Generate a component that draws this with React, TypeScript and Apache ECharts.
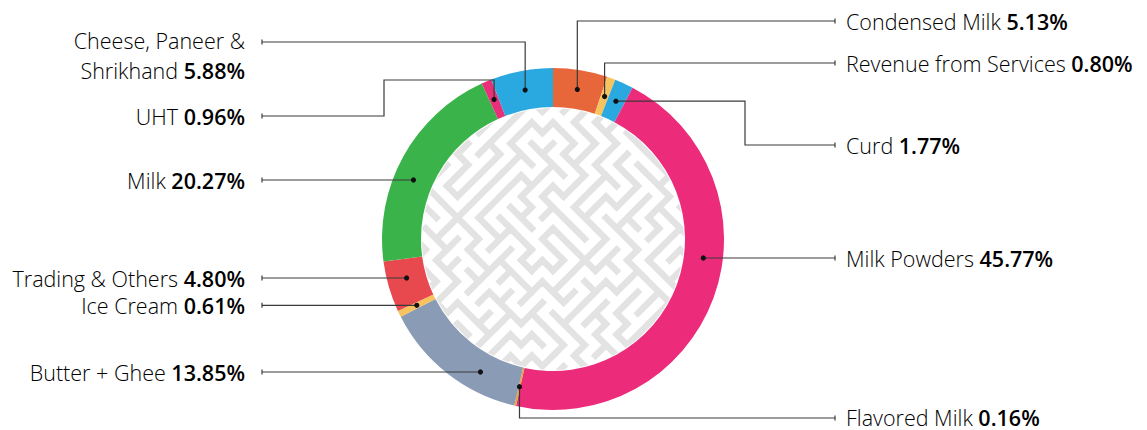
import React, { useEffect, useRef } from "react";
import * as echarts from "echarts";

// ---------- data ----------
const categories = [
  "Condensed Milk",
  "Revenue from Services",
  "Curd",
  "Milk Powders",
  "Flavored Milk",
  "Butter + Ghee",
  "Ice Cream",
  "Trading & Others",
  "Milk",
  "UHT",
  "Cheese, Paneer & Shrikhand",
];
const shares = [5.13, 0.8, 1.77, 45.77, 0.16, 13.85, 0.61, 4.8, 20.27, 0.96, 5.88];

// ---------- styles / layout ----------
const colors = [
  "#E8673A",
  "#F6C35F",
  "#2AA9E1",
  "#EC2B7B",
  "#F3A02F",
  "#8A9BB5",
  "#F6C35F",
  "#E8494E",
  "#3AB44A",
  "#E8307A",
  "#2AA9E1",
];

const CX = 553;
const CY = 239;
const R_OUT = 171;
const R_IN = 132;
const LEFT_END = 262;
const RIGHT_END = 835;
const LEFT_TEXT = 245;
const RIGHT_TEXT = 846;
const FONT = "'Open Sans', Lato, sans-serif";
const FONT_SIZE = 21.5;
const LINE_H = 22;
const WRAP_UP = -1.5;
const WRAP_DOWN = 28;
const LINE_COLOR = "#3a3a3a";

type Step = ["x" | "y", number];
interface Callout {
  side: "left" | "right";
  rowY?: number;
  route?: Step[];
  wrap?: boolean;
  textDy?: number;
}
const callouts: Callout[] = [
  { side: "right", route: [["y", 21]] },
  { side: "right", route: [["y", 63]] },
  { side: "right", route: [["x", 745], ["y", 145]] },
  { side: "right", rowY: 258 },
  { side: "right", route: [["y", 418]], textDy: -1 },
  { side: "left", rowY: 372 },
  { side: "left" },
  { side: "left", rowY: 278 },
  { side: "left", rowY: 180 },
  { side: "left", route: [["y", 80], ["x", 384], ["y", 116]] },
  { side: "left", route: [["y", 42]], wrap: true },
];

function makeMaze(size: number): string {
  const cvs = document.createElement("canvas");
  cvs.width = size;
  cvs.height = size;
  const ctx = cvs.getContext("2d")!;
  ctx.save();
  ctx.beginPath();
  ctx.arc(size / 2, size / 2, size / 2 - 1, 0, Math.PI * 2);
  ctx.clip();
  ctx.fillStyle = "#ffffff";
  ctx.fillRect(0, 0, size, size);
  ctx.translate(size / 2, size / 2);
  ctx.rotate(Math.PI / 4);
  const cell = 15;
  const n = Math.ceil((size * 1.5) / cell);
  let seed = 918273645;
  const rnd = () => {
    seed = (Math.imul(seed, 1664525) + 1013904223) >>> 0;
    return seed / 4294967296;
  };
  const visited = new Uint8Array(n * n);
  const right = new Uint8Array(n * n).fill(1);
  const down = new Uint8Array(n * n).fill(1);
  const start = Math.floor(n / 2) * n + Math.floor(n / 2);
  const stack = [start];
  visited[start] = 1;
  while (stack.length) {
    const c = stack[stack.length - 1];
    const x = c % n;
    const y = (c / n) | 0;
    const nb: number[] = [];
    if (x > 0 && !visited[c - 1]) nb.push(c - 1);
    if (x < n - 1 && !visited[c + 1]) nb.push(c + 1);
    if (y > 0 && !visited[c - n]) nb.push(c - n);
    if (y < n - 1 && !visited[c + n]) nb.push(c + n);
    if (!nb.length) {
      stack.pop();
      continue;
    }
    const nx = nb[Math.floor(rnd() * nb.length)];
    if (nx === c + 1) right[c] = 0;
    else if (nx === c - 1) right[c - 1] = 0;
    else if (nx === c + n) down[c] = 0;
    else down[nx] = 0;
    visited[nx] = 1;
    stack.push(nx);
  }
  ctx.strokeStyle = "#e3e3e3";
  ctx.lineWidth = 6.5;
  ctx.lineCap = "square";
  const off = (-n * cell) / 2;
  ctx.beginPath();
  for (let y = 0; y < n; y++) {
    for (let x = 0; x < n; x++) {
      const c = y * n + x;
      const x0 = off + x * cell;
      const y0 = off + y * cell;
      if (right[c] && x < n - 1) {
        ctx.moveTo(x0 + cell, y0);
        ctx.lineTo(x0 + cell, y0 + cell);
      }
      if (down[c] && y < n - 1) {
        ctx.moveTo(x0, y0 + cell);
        ctx.lineTo(x0 + cell, y0 + cell);
      }
    }
  }
  ctx.stroke();
  ctx.restore();
  return cvs.toDataURL();
}

export default function App() {
  const ref = useRef<HTMLDivElement>(null);

  useEffect(() => {
    if (!ref.current) return;
    const chart = echarts.init(ref.current, undefined, { renderer: "svg" });

    const total = shares.reduce((a, b) => a + b, 0);
    const mids: number[] = [];
    let acc = 0;
    shares.forEach((s) => {
      mids.push(acc + s / 2);
      acc += s;
    });
    const midFrac = (R_IN + R_OUT) / 2 / R_OUT;
    const mazeUrl = makeMaze(R_IN * 2);

    const rich = {
      n: { fontFamily: FONT, fontSize: FONT_SIZE, fontWeight: 300, color: "#4a4a4a", lineHeight: LINE_H },
      v: { fontFamily: FONT, fontSize: FONT_SIZE, fontWeight: 600, color: "#1c1c1c", lineHeight: LINE_H },
    };

    const textEl = (text: string, x: number, y: number, align: string) => ({
      type: "text",
      style: {
        text,
        rich,
        x,
        y,
        align,
        verticalAlign: "middle",
        fontFamily: FONT,
        fontSize: FONT_SIZE,
        lineHeight: LINE_H,
      },
    });

    chart.setOption({
      animation: false,
      backgroundColor: "#ffffff",
      graphic: [
        {
          type: "image",
          z: 0,
          silent: true,
          style: {
            image: mazeUrl,
            x: CX - R_IN,
            y: CY - R_IN,
            width: R_IN * 2,
            height: R_IN * 2,
          },
        },
      ],
      polar: { center: [CX, CY], radius: R_OUT },
      angleAxis: {
        type: "value",
        min: 0,
        max: total,
        startAngle: 90,
        clockwise: true,
        show: false,
      },
      radiusAxis: { type: "value", min: 0, max: 1, show: false },
      series: [
        {
          type: "pie",
          center: [CX, CY],
          radius: [R_IN, R_OUT],
          startAngle: 90,
          clockwise: true,
          silent: true,
          avoidLabelOverlap: false,
          label: { show: false },
          labelLine: { show: false },
          emphasis: { disabled: true },
          itemStyle: { borderWidth: 0 },
          data: categories.map((name, i) => ({
            name,
            value: shares[i],
            itemStyle: { color: colors[i] },
          })),
          z: 2,
        },
        {
          type: "custom",
          coordinateSystem: "polar",
          clip: false,
          silent: true,
          z: 5,
          data: mids.map((m) => [midFrac, m]),
          renderItem: (params: any, api: any) => {
            const i = params.dataIndex;
            const c = callouts[i];
            const center = api.coord([0, 0]);
            let p: number[];
            if (c.rowY != null) {
              const top = api.coord([api.value(0), 0]);
              const rpx = Math.hypot(top[0] - center[0], top[1] - center[1]);
              const dy = c.rowY - center[1];
              const dx = Math.sqrt(Math.max(rpx * rpx - dy * dy, 0)) * (c.side === "right" ? 1 : -1);
              p = [center[0] + dx, c.rowY];
            } else {
              p = api.coord([api.value(0), api.value(1)]);
            }
            const pts: number[][] = [[p[0], p[1]]];
            let cur = [p[0], p[1]];
            (c.route || []).forEach(([axis, v]) => {
              cur = axis === "x" ? [v, cur[1]] : [cur[0], v];
              pts.push(cur);
            });
            const endX = c.side === "right" ? RIGHT_END : LEFT_END;
            cur = [endX, cur[1]];
            pts.push(cur);
            const lineY = cur[1];
            const pct = shares[i].toFixed(2) + "%";
            const tx = c.side === "right" ? RIGHT_TEXT : LEFT_TEXT;
            const align = c.side === "right" ? "left" : "right";
            const ty = lineY + (c.textDy || 0);
            const texts: any[] = [];
            if (c.wrap) {
              const words = categories[i].split(" ");
              const first = words.slice(0, -1).join(" ");
              const last = words[words.length - 1];
              texts.push(textEl(`{n|${first}}`, tx, ty + WRAP_UP, align));
              texts.push(textEl(`{n|${last}} {v|${pct}}`, tx, ty + WRAP_DOWN, align));
            } else {
              texts.push(textEl(`{n|${categories[i]}} {v|${pct}}`, tx, ty, align));
            }
            return {
              type: "group",
              children: [
                {
                  type: "polyline",
                  shape: { points: pts },
                  style: { stroke: LINE_COLOR, lineWidth: 1.2, fill: null },
                },
                {
                  type: "line",
                  shape: { x1: endX, y1: lineY - 2.5, x2: endX, y2: lineY + 2.5 },
                  style: { stroke: LINE_COLOR, lineWidth: 1.2 },
                },
                {
                  type: "circle",
                  shape: { cx: p[0], cy: p[1], r: 2.6 },
                  style: { fill: "#111111" },
                },
                ...texts,
              ],
            };
          },
        },
      ],
    });

    return () => chart.dispose();
  }, []);

  return (
    <div
      ref={ref}
      style={{ position: "absolute", left: 0, top: 0, width: 1147, height: 430 }}
    />
  );
}
